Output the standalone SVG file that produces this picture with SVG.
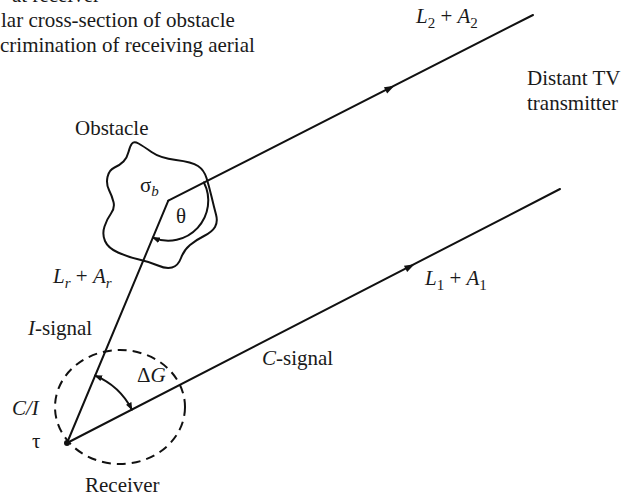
<svg xmlns="http://www.w3.org/2000/svg" width="625" height="497" viewBox="0 0 625 497">
<style>
text{font-family:"Liberation Serif","Times New Roman",serif;font-size:21px;fill:#1a1a1a}
.i{font-style:italic}
.sub{font-size:15px}
.ln{fill:none;stroke:#111;stroke-width:2;stroke-linecap:round;stroke-linejoin:round}
.dash{fill:none;stroke:#111;stroke-width:2;stroke-dasharray:9 6}
</style>
<defs>
<path id="ah" d="M5,0 L-5,-3.5 L-5,3.5 Z" fill="#111"/>
<marker id="m" viewBox="0 0 8 6" refX="7" refY="3" markerWidth="8" markerHeight="6" markerUnits="userSpaceOnUse" orient="auto-start-reverse">
<path d="M0,0 L8,3 L0,6 Z" fill="#111"/>
</marker>
</defs>
<g id="legend">
<text x="12" y="2">at receiver</text>
<text x="1" y="27">lar cross-section of obstacle</text>
<text x="0" y="52">crimination of receiving aerial</text>
</g>
<g id="connectors">
<path class="ln" d="M168.3,200.7 L533,15"/>
<path class="ln" d="M168.3,200.7 L67,443"/>
<path class="ln" d="M67,443 L560,189"/>
<use href="#ah" transform="translate(390,88) rotate(-27)"/>
<use href="#ah" transform="translate(410,266.5) rotate(-27.3)"/>
<path class="ln" d="M203.9,182.5 A40,40 0 0,1 152.9,237.6" marker-end="url(#m)"/>
<path class="ln" d="M95.1,375.6 A73,73 0 0,1 131.9,409.6" marker-start="url(#m)" marker-end="url(#m)"/>
</g>
<g id="obstacle">
<path class="ln" d="M132,143.5 Q134,141 138.5,143.5 Q143,146 151.5,152 Q160,158 176,160 Q192,162 198,166 Q204,170 206.5,178 Q209,186 211.5,196.5 Q214,207 216,214.5 Q218,222 215,227 Q212,232 204,236 Q196,240 190,245 Q184,250 181,258 Q178,266 172,267.5 Q166,269 158,265.5 Q150,262 139,259.5 Q128,257 118,252.5 Q108,248 105,241 Q102,234 104.5,226.5 Q107,219 111,213.5 Q115,208 113.5,202 Q112,196 109,190 Q106,184 107.5,177 Q109,170 114.5,167.5 Q120,165 123.5,161.5 Q127,158 128.5,152 Q130,146 132,143.5 Z"/>
<text x="75" y="135">Obstacle</text>
<text x="140" y="192">σ<tspan class="i sub" dy="4">b</tspan></text>
<text x="176" y="223">θ</text>
</g>
<g id="transmitter">
<text x="527" y="85">Distant TV</text>
<text x="527" y="110">transmitter</text>
</g>
<g id="receiver">
<ellipse class="dash" cx="120" cy="407" rx="65" ry="57"/>
<circle cx="67" cy="443" r="3" fill="#111"/>
<text class="i" x="12" y="415">C/I</text>
<text x="32" y="448">τ</text>
<text x="85" y="492">Receiver</text>
<text x="137" y="382">Δ<tspan class="i">G</tspan></text>
</g>
<g id="labels">
<text x="416" y="23"><tspan class="i">L</tspan><tspan class="sub" dy="5">2</tspan><tspan dy="-5"> + </tspan><tspan class="i">A</tspan><tspan class="sub" dy="5">2</tspan></text>
<text x="425" y="285"><tspan class="i">L</tspan><tspan class="sub" dy="5">1</tspan><tspan dy="-5"> + </tspan><tspan class="i">A</tspan><tspan class="sub" dy="5">1</tspan></text>
<text x="53" y="283"><tspan class="i">L</tspan><tspan class="i sub" dy="5">r</tspan><tspan dy="-5"> + </tspan><tspan class="i">A</tspan><tspan class="i sub" dy="5">r</tspan></text>
<text x="28" y="335"><tspan class="i">I</tspan>-signal</text>
<text x="262" y="365"><tspan class="i">C</tspan>-signal</text>
</g>
</svg>
